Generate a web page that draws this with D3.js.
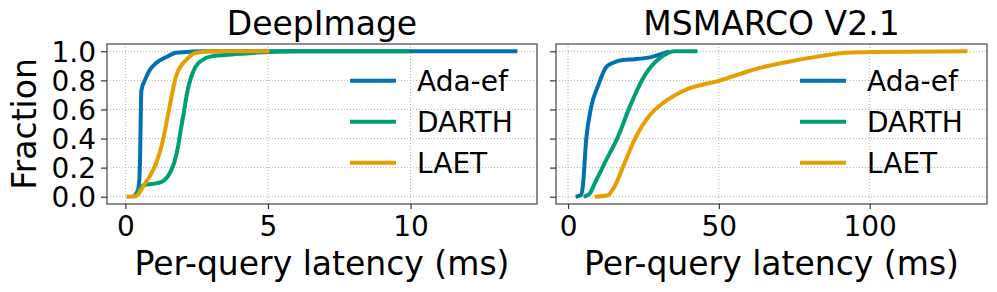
<!DOCTYPE html>
<html>
<head>
<meta charset="utf-8">
<script src="https://cdn.jsdelivr.net/npm/d3@7"></script>
<style>
  body { margin: 0; background: #fff; }
  text { font-family: "DejaVu Sans", sans-serif; fill: #000; }
</style>
</head>
<body>
<div id="chart"></div>
<script>
// CDF of per-query latency
const methods = ["Ada-ef", "DARTH", "LAET"];
const colors = ["#0072B2", "#009E73", "#E69F00"];
const yTicks = [0, 0.2, 0.4, 0.6, 0.8, 1.0];

// DeepImage
const deepAdaX = [0.27, 0.41, 0.48, 0.51, 0.56, 0.68, 0.85, 1.08, 1.43, 1.78, 2.13, 2.6, 13.75];
const deepAdaY = [0, 0.03, 0.09, 0.23, 0.73, 0.80, 0.87, 0.92, 0.96, 0.99, 0.995, 1.0, 1.0];
const deepDarthX = [0.3, 0.45, 0.6, 0.8, 1.0, 1.25, 1.45, 1.6, 1.72, 1.85, 1.95, 2.05, 2.15, 2.27, 2.45, 2.7, 3.0, 3.5, 4.2, 5.0, 6.0, 9.94];
const deepDarthY = [0, 0.04, 0.075, 0.085, 0.09, 0.1, 0.13, 0.18, 0.24, 0.35, 0.47, 0.58, 0.7, 0.8, 0.89, 0.94, 0.965, 0.975, 0.985, 0.995, 1.0, 1.0];
const deepLaetX = [0.04, 0.38, 0.62, 0.85, 1.08, 1.32, 1.55, 1.78, 2.13, 2.48, 3.2, 5.05];
const deepLaetY = [0, 0.005, 0.07, 0.14, 0.23, 0.39, 0.62, 0.83, 0.94, 0.99, 1.0, 1.0];

// MSMARCO V2.1
const msAdaX = [2.5, 4.2, 4.9, 6.0, 7.7, 9.9, 12.6, 14.8, 18.1, 22.0, 27.5, 30.8, 33.5];
const msAdaY = [0, 0.01, 0.07, 0.39, 0.62, 0.76, 0.89, 0.92, 0.94, 0.945, 0.96, 0.98, 1.0];
const msDarthX = [5.2, 7.1, 8.8, 12.1, 16.5, 20.9, 25.3, 28.6, 31.9, 35.2, 42.9];
const msDarthY = [0, 0.02, 0.09, 0.23, 0.41, 0.64, 0.83, 0.92, 0.975, 1.0, 1.0];
const msLaetX = [8.8, 13.2, 15.4, 18.7, 22.0, 27.5, 31.9, 38.5, 50.5, 62.6, 73.6, 84.6, 92.3, 101, 132.4];
const msLaetY = [0, 0.01, 0.07, 0.23, 0.39, 0.57, 0.65, 0.73, 0.80, 0.88, 0.93, 0.97, 0.99, 0.995, 1.0];

const panels = [
  { title: "DeepImage", ticks: [0, 5, 10], left: 107, right: 537,
    series: [[deepAdaX, deepAdaY], [deepDarthX, deepDarthY], [deepLaetX, deepLaetY]] },
  { title: "MSMARCO V2.1", ticks: [0, 50, 100], left: 556, right: 987,
    series: [[msAdaX, msAdaY], [msDarthX, msDarthY], [msLaetX, msLaetY]] }
];

const width = 997, height = 292;
const plotTop = 44, plotBottom = 204;

const svg = d3.select("#chart").append("svg")
  .attr("width", width)
  .attr("height", height);

panels.forEach((p, pi) => {
  const allX = p.series.flatMap(s => s[0]);
  const xmin = d3.min(allX), xmax = d3.max(allX);
  const pad = (xmax - xmin) * 0.05;
  const x = d3.scaleLinear().domain([xmin - pad, xmax + pad]).range([p.left, p.right]);
  const y = d3.scaleLinear().domain([-0.05, 1.05]).range([plotBottom, plotTop]);

  const g = svg.append("g");

  // grid
  g.selectAll(".gx").data(p.ticks).enter().append("line")
    .attr("x1", d => x(d)).attr("x2", d => x(d))
    .attr("y1", plotTop).attr("y2", plotBottom)
    .attr("stroke", "#b0b0b0").attr("stroke-width", 1).attr("stroke-dasharray", "1,2");
  g.selectAll(".gy").data(yTicks).enter().append("line")
    .attr("x1", p.left).attr("x2", p.right)
    .attr("y1", d => y(d)).attr("y2", d => y(d))
    .attr("stroke", "#b0b0b0").attr("stroke-width", 1).attr("stroke-dasharray", "1,2");

  // curves
  const line = d3.line().x(d => x(d[0])).y(d => y(d[1])).curve(d3.curveMonotoneX);
  p.series.forEach((s, i) => {
    const pts = s[0].map((v, k) => [v, s[1][k]]);
    g.append("path")
      .datum(pts)
      .attr("d", line)
      .attr("fill", "none")
      .attr("stroke", colors[i])
      .attr("stroke-width", 4)
      .attr("stroke-linejoin", "round");
  });

  // axes
  const xAxis = d3.axisBottom(x).tickValues(p.ticks).tickSize(5).tickPadding(7).tickFormat(d3.format("d"));
  const gx = g.append("g").attr("transform", "translate(0," + plotBottom + ")").call(xAxis);
  gx.select(".domain").remove();
  gx.selectAll("line").attr("stroke", "#333").attr("stroke-width", 1.2);
  gx.selectAll("text").style("font-size", "28px").attr("fill", "#000");

  const yAxis = d3.axisLeft(y).tickValues(yTicks).tickSize(6).tickPadding(5)
    .tickFormat(pi === 0 ? d3.format(".1f") : "");
  const gy = g.append("g").attr("transform", "translate(" + p.left + ",0)").call(yAxis);
  gy.select(".domain").remove();
  gy.selectAll("line").attr("stroke", "#333").attr("stroke-width", 1.2);
  gy.selectAll("text").style("font-size", "28px").attr("fill", "#000").attr("dy", "0.36em");

  // frame
  g.append("rect")
    .attr("x", p.left).attr("y", plotTop)
    .attr("width", p.right - p.left).attr("height", plotBottom - plotTop)
    .attr("fill", "none").attr("stroke", "#444").attr("stroke-width", 1.2);

  // title
  g.append("text")
    .attr("x", (p.left + p.right) / 2).attr("y", 35)
    .attr("text-anchor", "middle")
    .style("font-size", "33px")
    .text(p.title);

  // x label
  g.append("text")
    .attr("x", (p.left + p.right) / 2).attr("y", 275)
    .attr("text-anchor", "middle")
    .style("font-size", "33px")
    .text("Per-query latency (ms)");

  // legend
  const lx = p.right - 187;
  methods.forEach((m, i) => {
    const ly = 80.7 + i * 41;
    g.append("line")
      .attr("x1", lx).attr("x2", lx + 46)
      .attr("y1", ly).attr("y2", ly)
      .attr("stroke", colors[i]).attr("stroke-width", 4);
    g.append("text")
      .attr("x", lx + 67).attr("y", ly + 10)
      .style("font-size", "28px")
      .text(m);
  });
});

// y label
svg.append("text")
  .attr("transform", "translate(36," + (plotTop + plotBottom) / 2 + ") rotate(-90)")
  .attr("text-anchor", "middle")
  .style("font-size", "33px")
  .text("Fraction");
</script>
</body>
</html>
